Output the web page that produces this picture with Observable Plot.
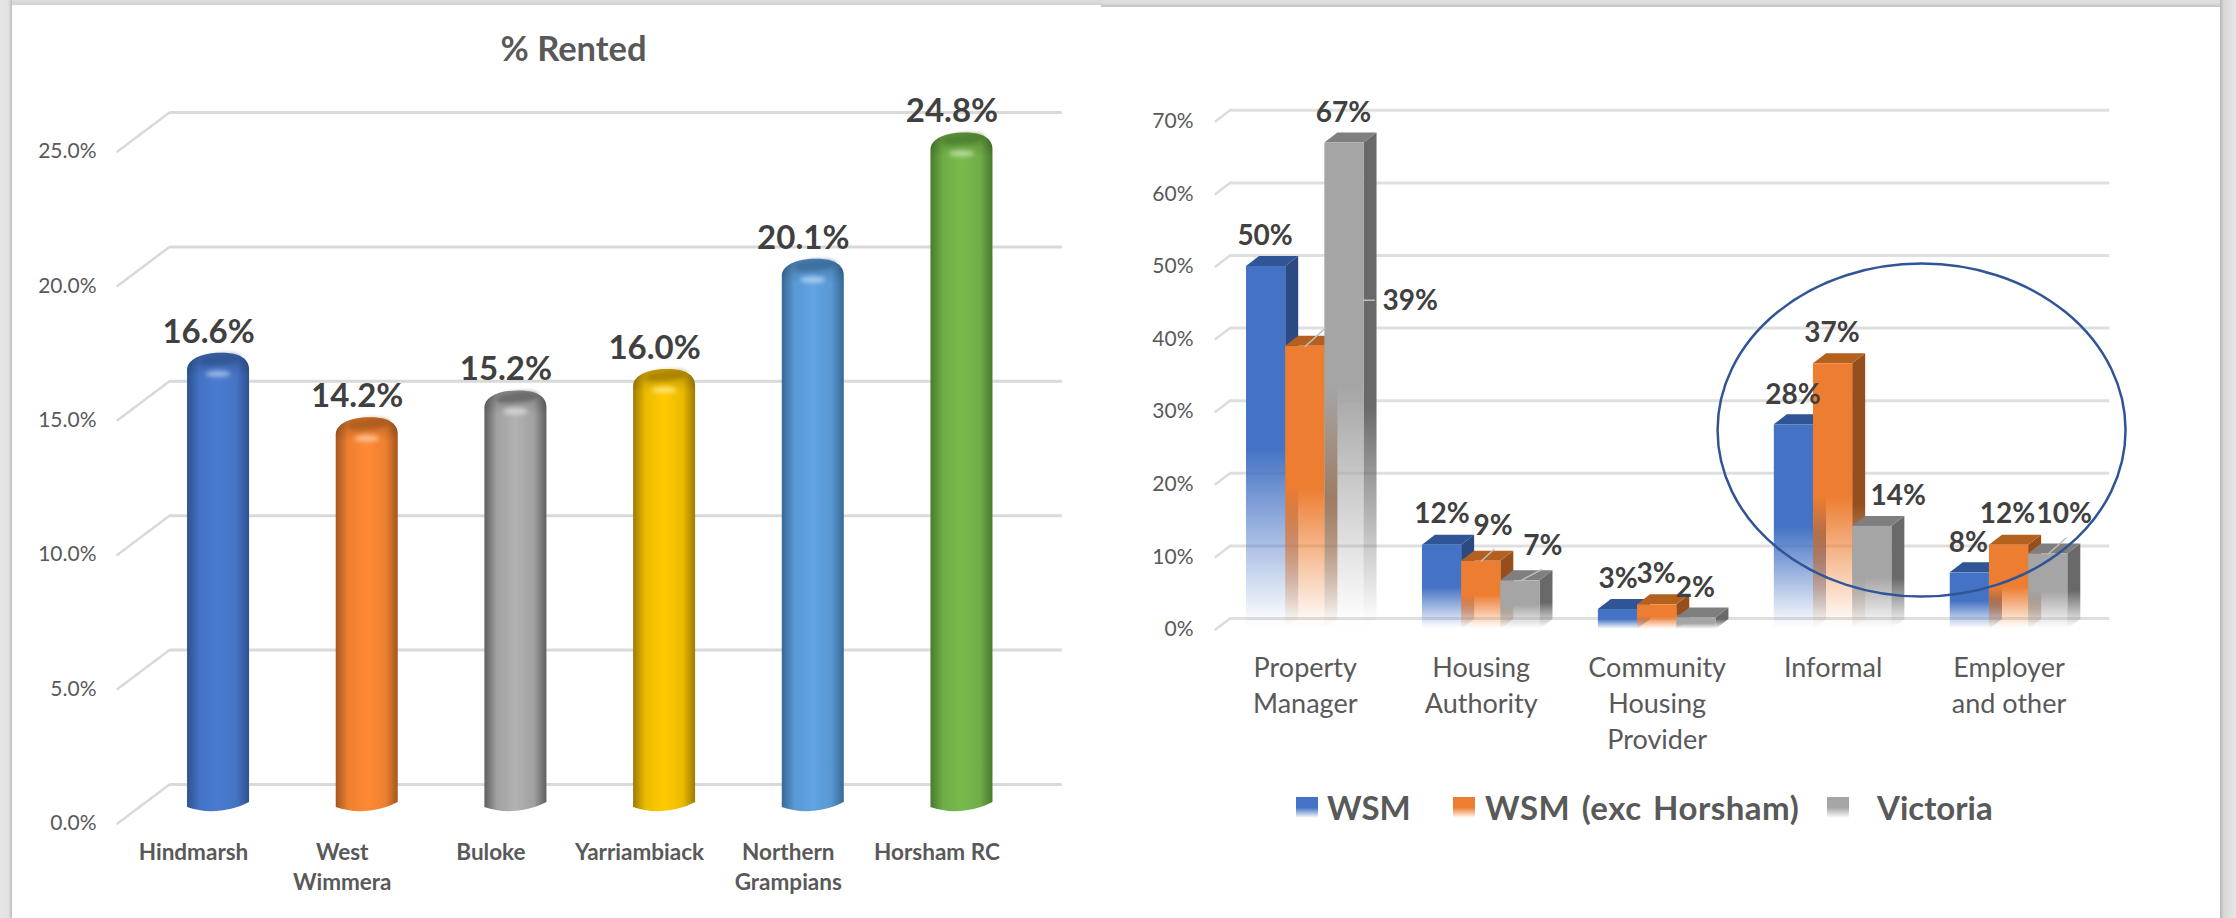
<!DOCTYPE html>
<html>
<head>
<meta charset="utf-8">
<script src="https://cdn.jsdelivr.net/npm/d3@7"></script>
<script src="https://cdn.jsdelivr.net/npm/@observablehq/plot@0.6"></script>
<style>
  html, body { margin: 0; padding: 0; }
  body { width: 2236px; height: 918px; position: relative; overflow: hidden; background: #dcdcdc; font-family: Lato, sans-serif; }
  .abs { position: absolute; }
  .legend-text { font-weight: 700; font-size: 33px; color: #595959; white-space: nowrap; transform: translateY(-50%); line-height: 1; }
</style>
</head>
<body>
<div class="abs" style="left:0;top:0;width:12px;height:918px;background:linear-gradient(90deg,#e6e6e6 0,#e2e2e2 70%,#bdbdbd 100%)"></div>
<div class="abs" style="left:12px;top:0;width:1089px;height:5px;background:linear-gradient(180deg,#dedede,#d2d2d2)"></div>
<div class="abs" style="left:1101px;top:0;width:1119px;height:7px;background:linear-gradient(180deg,#dedede 40%,#c2c2c2)"></div>
<div class="abs" style="left:12px;top:5px;width:1089px;height:913px;background:#fff"></div>
<div class="abs" style="left:1101px;top:7px;width:1119px;height:911px;background:#fff"></div>
<div class="abs" style="left:2220px;top:0;width:16px;height:918px;background:linear-gradient(90deg,#b5b5b5 0,#d8d8d8 25%,#e8e8e8 100%)"></div>

<svg width="0" height="0" style="position:absolute">
  <defs id="defs"></defs>
</svg>
<div id="root"></div>

<script>
// ---- data: % Rented ----
const rentedCategories = ["Hindmarsh", "West Wimmera", "Buloke", "Yarriambiack", "Northern Grampians", "Horsham RC"];
const rentedTickLabels = ["Hindmarsh", "West\nWimmera", "Buloke", "Yarriambiack", "Northern\nGrampians", "Horsham RC"];
const rentedValues = [16.6, 14.2, 15.2, 16.0, 20.1, 24.8];
const rentedTicks = [0, 5, 10, 15, 20, 25];

// ---- data: tenure types ----
const tenureCategories = ["Property Manager", "Housing Authority", "Community Housing Provider", "Informal", "Employer and other"];
const tenureTickLabels = ["Property\nManager", "Housing\nAuthority", "Community\nHousing\nProvider", "Informal", "Employer\nand other"];
const seriesNames = ["WSM", "WSM (exc Horsham)", "Victoria"];
const wsmValues = [50, 11.6, 2.75, 28.2, 7.8];
const wsmExcHorshamValues = [39, 9.4, 3.4, 36.6, 11.6];
const victoriaValues = [67, 6.7, 1.6, 14.2, 10.4];
const tenureTicks = [0, 10, 20, 30, 40, 50, 60, 70];

// ---- styles ----
const cylinderColors = [
  ["#2d5290", "#4a7bd0", "blue"], ["#a5561e", "#ff8a35", "orange"], ["#5f5f5f", "#b2b2b2", "gray"],
  ["#a07a00", "#ffcb00", "yellow"], ["#386895", "#60a4e2", "sky"], ["#497a2e", "#79ba4c", "green"]
];
const seriesStyles = [
  {front: "#4472c4", side: "#2b4a82", top: "#2f5597", key: "s0"},
  {front: "#ed7d31", side: "#964f1c", top: "#b4601f", key: "s1"},
  {front: "#a5a5a5", side: "#696969", top: "#7f7f7f", key: "s2"}
];
const axisGray = "#595959";
const labelGray = "#404040";

// gradient definitions shared by both charts
const defs = d3.select("#defs");
cylinderColors.forEach(([edge, mid, id]) => {
  const g = defs.append("linearGradient").attr("id", "cyl-" + id);
  [[0, edge], [.2, d3.interpolateRgb(edge, mid)(.8)], [.5, mid], [.8, d3.interpolateRgb(edge, mid)(.8)], [1, edge]]
    .forEach(([o, c]) => g.append("stop").attr("offset", o).attr("stop-color", c));
});
const shade = defs.append("linearGradient").attr("id", "cap-shade").attr("x2", 0).attr("y2", 1);
shade.append("stop").attr("offset", 0).attr("stop-color", "#000").attr("stop-opacity", .22);
shade.append("stop").attr("offset", 1).attr("stop-color", "#000").attr("stop-opacity", 0);
defs.append("filter").attr("id", "soft").attr("x", "-50%").attr("y", "-100%").attr("width", "200%").attr("height", "300%")
  .append("feGaussianBlur").attr("stdDeviation", 2);
seriesStyles.forEach(s => {
  [["front", s.front, .5], ["side", s.side, .55]].forEach(([part, c, start]) => {
    const g = defs.append("linearGradient").attr("id", `${s.key}-${part}`).attr("x2", 0).attr("y2", 1);
    g.append("stop").attr("offset", 0).attr("stop-color", c);
    g.append("stop").attr("offset", start).attr("stop-color", c);
    g.append("stop").attr("offset", .97).attr("stop-color", c).attr("stop-opacity", .04);
    g.append("stop").attr("offset", 1).attr("stop-color", c).attr("stop-opacity", 0);
  });
});

const SVGNS = "http://www.w3.org/2000/svg";
const el = (name, attrs) => {
  const n = document.createElementNS(SVGNS, name);
  for (const k in attrs) n.setAttribute(k, attrs[k]);
  return n;
};

// turn each bar rect from Plot into a shaded cylinder
function cylinder(index, scales, values, dimensions, context, next) {
  const g = next(index, scales, values, dimensions, context);
  [...g.querySelectorAll("rect")].forEach((r, i) => {
    const x = +r.getAttribute("x"), y = +r.getAttribute("y"), w = +r.getAttribute("width"), h = +r.getAttribute("height");
    const yb = y + h, [edge, mid, id] = cylinderColors[i];
    const dome = `M${x},${y + 24}L${x},${y + 17}C${x},${y + 7} ${x + w * .22},${y} ${x + w * .55},${y}C${x + w * .85},${y} ${x + w},${y + 6} ${x + w},${y + 17}L${x + w},${y + 24}`;
    const body = dome + `L${x + w},${yb + 3}C${x + w * .7},${yb + 13} ${x + w * .3},${yb + 15} ${x},${yb + 8}Z`;
    const nodes = [
      el("path", {d: body, fill: `url(#cyl-${id})`}),
      el("path", {d: dome + "Z", fill: "url(#cap-shade)"}),
      el("ellipse", {cx: x + w * .53, cy: y + 7, rx: w * .34, ry: 5.5, fill: edge, opacity: .75, filter: "url(#soft)", transform: `rotate(-6 ${x + w * .53} ${y + 7})`}),
      el("ellipse", {cx: x + w * .5, cy: y + 21, rx: w * .2, ry: 3, fill: d3.interpolateRgb(mid, "#fff")(.45), filter: "url(#soft)"})
    ];
    nodes.forEach(n => g.insertBefore(n, r));
    r.remove();
  });
  return g;
}

// give each bar rect from Plot a side and a top face
function extrude(style) {
  const ex = 13, ey = 10;
  return (index, scales, values, dimensions, context, next) => {
    const g = next(index, scales, values, dimensions, context);
    g.querySelectorAll("rect").forEach(r => {
      const x = +r.getAttribute("x"), y = +r.getAttribute("y"), w = +r.getAttribute("width"), h = +r.getAttribute("height");
      g.insertBefore(el("polygon", {points: `${x + w},${y} ${x + w + ex},${y - ey} ${x + w + ex},${y + h - ey} ${x + w},${y + h}`, fill: `url(#${style.key}-side)`}), r);
      g.insertBefore(el("polygon", {points: `${x},${y} ${x + ex},${y - ey} ${x + w + ex},${y - ey} ${x + w},${y}`, fill: style.top}), r);
    });
    return g;
  };
}

const lineShape = {draw(ctx, l) { ctx.moveTo(0, 0); ctx.lineTo(0, -l); }};

// ---- left chart ----
const rentedRows = rentedCategories.map((c, i) => ({c, v: rentedValues[i]}));
const rentedChart = Plot.plot({
  width: 1100, height: 918,
  marginLeft: 143.7, marginRight: 64.2, marginTop: 127, marginBottom: 119,
  style: {background: "transparent", fontFamily: "Lato, sans-serif"},
  x: {domain: rentedCategories, paddingInner: .583, paddingOuter: .2915, round: false, label: null},
  y: {domain: [0, 25], label: null},
  color: {type: "identity"},
  marks: [
    Plot.ruleY(rentedTicks, {dx: 26, dy: -15, stroke: "#d9d9d9", strokeWidth: 3}),
    Plot.vector(rentedTicks, {y: d => d, frameAnchor: "left", length: 65, rotate: 53.1, anchor: "middle", shape: lineShape, dx: -.7, dy: 4.5, stroke: "#d9d9d9", strokeWidth: 2.5}),
    Plot.axisY({ticks: rentedTicks, anchor: "left", tickSize: 0, tickPadding: 47.7, dy: 24, label: null, tickFormat: d => d3.format(".1f")(d) + "%", fontSize: 21, color: axisGray}),
    Plot.axisX({anchor: "bottom", tickSize: 0, tickPadding: 40, dx: -25, label: null, fontSize: 22.5, fontWeight: 700, lineHeight: 1.31, color: axisGray,
      tickFormat: d => rentedTickLabels[rentedCategories.indexOf(d)]}),
    Plot.barY(rentedRows, {x: "c", y: "v", fill: "url(#cyl-blue)", render: cylinder}),
    Plot.text(rentedRows, {x: "c", y: "v", text: d => d3.format(".1f")(d.v) + "%", dx: -10, dy: -21, fontSize: 33, fontWeight: 700, fill: labelGray}),
    Plot.text(["% Rented"], {frameAnchor: "top-left", dx: 573 - 143.7, dy: 49 - 127, textAnchor: "middle", lineAnchor: "middle", fontSize: 34.5, fontWeight: 700, fill: axisGray})
  ]
});

// ---- right chart ----
const tenureSeriesValues = [wsmValues, wsmExcHorshamValues, victoriaValues];
const BAR = 117.5 / 3;
const labelOffsets = {
  "0:0": [-1, -30], "0:1": [105, -45], "0:2": [-1, -30],
  "1:0": [0, -31], "1:1": [12, -35.7], "1:2": [22.5, -35],
  "2:0": [0, -31], "2:1": [-1, -31], "2:2": [-1, -30],
  "3:0": [-1, -30], "3:1": [-1, -31], "3:2": [26, -30],
  "4:0": [-1.5, -30], "4:1": [-1.5, -31], "4:2": [16, -40]
};
const leaders = [
  // category, series, offset from bar top, length, angle
  [0, 1, 0, 0, 27, 48],
  [0, 1, 58, -46, 11, 90],
  [1, 1, 0, 0, 17.5, 47],
  [1, 2, 0, 0, 24, 62],
  [4, 2, 0, 0, 24, 48]
];

const barMarks = seriesStyles.map((s, si) =>
  Plot.barY(tenureCategories.map((c, i) => ({c, v: tenureSeriesValues[si][i]})), {
    x: "c", y: "v", fill: `url(#${s.key}-front)`,
    insetLeft: si * BAR, insetRight: (2 - si) * BAR,
    render: extrude(s)
  })
);
const leaderMarks = leaders.map(([ci, si, ox, oy, length, rotate]) =>
  Plot.vector([tenureSeriesValues[si][ci]], {
    x: () => tenureCategories[ci], y: d => d, length, rotate, anchor: "start", shape: lineShape,
    dx: (si - 1) * BAR + ox, dy: oy, stroke: "#bdbdbd", strokeWidth: 1.5
  })
);
const labelMarks = seriesStyles.flatMap((s, si) => tenureCategories.map((c, ci) => {
  const [dx, dy] = labelOffsets[`${ci}:${si}`];
  return Plot.text([tenureSeriesValues[si][ci]], {
    x: () => c, y: d => d, text: d => Math.round(d) + "%",
    dx: (si - 1) * BAR + dx, dy, fontSize: 28, fontWeight: 700, fill: labelGray
  });
}));

const tenureChart = Plot.plot({
  width: 1136, height: 918,
  marginLeft: 116.8, marginRight: 139.5, marginTop: 120.8, marginBottom: 289,
  style: {background: "transparent", fontFamily: "Lato, sans-serif"},
  x: {domain: tenureCategories, paddingInner: .332, paddingOuter: .166, round: false, label: null},
  y: {domain: [0, 70], label: null},
  marks: [
    Plot.ruleY(tenureTicks, {dx: 12.8, dy: -11, stroke: "#dfdfdf", strokeWidth: 3}),
    Plot.vector(tenureTicks, {y: d => d, frameAnchor: "left", length: 18.2, rotate: 52.8, anchor: "middle", shape: lineShape, dx: 5.5, dy: -5.5, stroke: "#dcdcdc", strokeWidth: 2.5}),
    Plot.axisY({ticks: tenureTicks, anchor: "left", tickSize: 0, tickPadding: 23.8, label: null, tickFormat: d => d + "%", fontSize: 21, color: axisGray}),
    Plot.axisX({anchor: "bottom", tickSize: 0, tickPadding: 22, label: null, fontSize: 27, lineHeight: 1.33, color: axisGray,
      tickFormat: d => tenureTickLabels[tenureCategories.indexOf(d)]}),
    barMarks,
    leaderMarks,
    labelMarks,
    // annotation ellipse around the informal / employer groups
    (index, {x, y}) => {
      const bw = typeof x.bandwidth === "function" ? x.bandwidth() : x.bandwidth;
      return el("ellipse", {
        cx: (x("Informal") + x("Employer and other") + bw) / 2 + 1,
        cy: y(27.4), rx: 204, ry: 166.5, fill: "none", stroke: "#2f5597", "stroke-width": 2.5
      });
    }
  ]
});

for (const [chart, left] of [[rentedChart, 0], [tenureChart, 1100]]) {
  chart.style.position = "absolute";
  chart.style.left = left + "px";
  chart.style.top = 0;
  document.getElementById("root").appendChild(chart);
}

// ---- legend ----
const root = document.getElementById("root");
const legendLayout = [[1296, 1327], [1453, 1485], [1827, 1877]];
seriesNames.forEach((name, i) => {
  const sw = document.createElement("div");
  sw.className = "abs";
  const c = seriesStyles[i].front;
  sw.style.cssText = `left:${legendLayout[i][0]}px;top:797px;width:22px;height:21px;background:linear-gradient(180deg,${c} 0,${c} 50%,rgba(255,255,255,0) 100%)`;
  root.appendChild(sw);
  const t = document.createElement("div");
  t.className = "abs legend-text";
  t.style.left = legendLayout[i][1] + "px";
  t.style.top = "807px";
  if (i === 1) t.style.wordSpacing = "3px", t.style.letterSpacing = ".5px";
  t.textContent = name;
  root.appendChild(t);
});
</script>
</body>
</html>
